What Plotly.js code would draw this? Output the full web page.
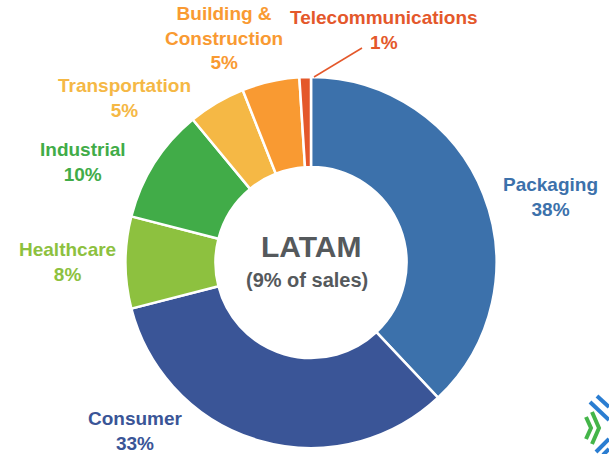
<!DOCTYPE html>
<html>
<head>
<meta charset="utf-8">
<script src="https://cdn.plot.ly/plotly-3.0.1.min.js"></script>
<style>
  body { margin: 0; background: white; }
  #chart { width: 609px; height: 454px; }
</style>
</head>
<body>
<div id="chart"></div>
<script>
// ===============================
// LATAM SALES BY MARKET
// ===============================

const markets = ['Packaging', 'Consumer', 'Healthcare', 'Industrial',
                 'Transportation', 'Building &<br>Construction', 'Telecommunications'];
const shares = [38, 33, 8, 10, 5, 5, 1];
const colors = ['#3c71ab', '#3a5597', '#8dc13f', '#41ac48',
                '#f5b845', '#f99a32', '#e4582b'];

// label centres (px) for the outside labels
const labelPos = [
  [550, 197], [135, 431], [67, 262], [83, 162],
  [124, 98], [224, 38], [384, 30]
];

const W = 609, H = 454;
const px = (x) => x / W;
const py = (y) => 1 - y / H;

let annotations = markets.map((m, i) => ({
  text: '<b>' + m + '<br>' + shares[i] + '%</b>',
  x: px(labelPos[i][0]),
  y: py(labelPos[i][1]),
  xref: 'paper', yref: 'paper',
  showarrow: false,
  xanchor: 'center', yanchor: 'middle',
  font: { family: 'Liberation Sans, Arial', size: 19, color: colors[i] }
}));

annotations.push({
  text: '<b>LATAM</b>', x: px(311), y: py(246),
  xref: 'paper', yref: 'paper', showarrow: false,
  font: { family: 'Liberation Sans, Arial', size: 30, color: '#55595c' }
});
annotations.push({
  text: '<b>(9% of sales)</b>', x: px(307), y: py(280),
  xref: 'paper', yref: 'paper', showarrow: false,
  font: { family: 'Liberation Sans, Arial', size: 20, color: '#55595c' }
});

// small logo fragment in the corner
function seg(x0, y0, x1, y1, c) {
  return { type: 'line', xref: 'paper', yref: 'paper',
           x0: px(x0), y0: py(y0), x1: px(x1), y1: py(y1),
           line: { color: c, width: 4 } };
}
function chevron(x0, ytop, xtip, ybot, c) {
  return { type: 'path', xref: 'paper', yref: 'paper',
           path: 'M ' + px(x0) + ',' + py(ytop) + ' L ' + px(xtip) + ',' + py((ytop + ybot) / 2) +
                 ' L ' + px(x0) + ',' + py(ybot),
           line: { color: c, width: 4 } };
}

Plotly.newPlot('chart', [
{
  type: 'pie',
  labels: markets,
  values: shares,
  sort: false,
  direction: 'clockwise',
  rotation: 0,
  hole: 0.515,
  textinfo: 'none',
  marker: {
    colors: colors,
    line: { color: 'white', width: 2.5 }
  },
  domain: { x: [px(125), px(497)], y: [py(448), py(77)] }
}
],
{
  width: W,
  height: H,
  margin: { l: 0, r: 0, t: 0, b: 0 },
  showlegend: false,
  paper_bgcolor: 'white',
  annotations: annotations,
  shapes: [
    // leader line for Telecommunications
    { type: 'line', xref: 'paper', yref: 'paper',
      x0: px(362), y0: py(48), x1: px(314), y1: py(77),
      line: { color: '#e4582b', width: 1.5 } },
    chevron(586, 417, 591, 439, '#44b549'),
    chevron(592, 412, 599, 444, '#44b549'),
    seg(590, 402, 609, 420, '#2a7dd1'),
    seg(597, 396, 609, 407, '#2a7dd1'),
    seg(596, 452, 609, 439, '#2a7dd1'),
    seg(603, 455, 609, 449, '#2a7dd1')
  ]
},
{
  displayModeBar: false
});
</script>
</body>
</html>
